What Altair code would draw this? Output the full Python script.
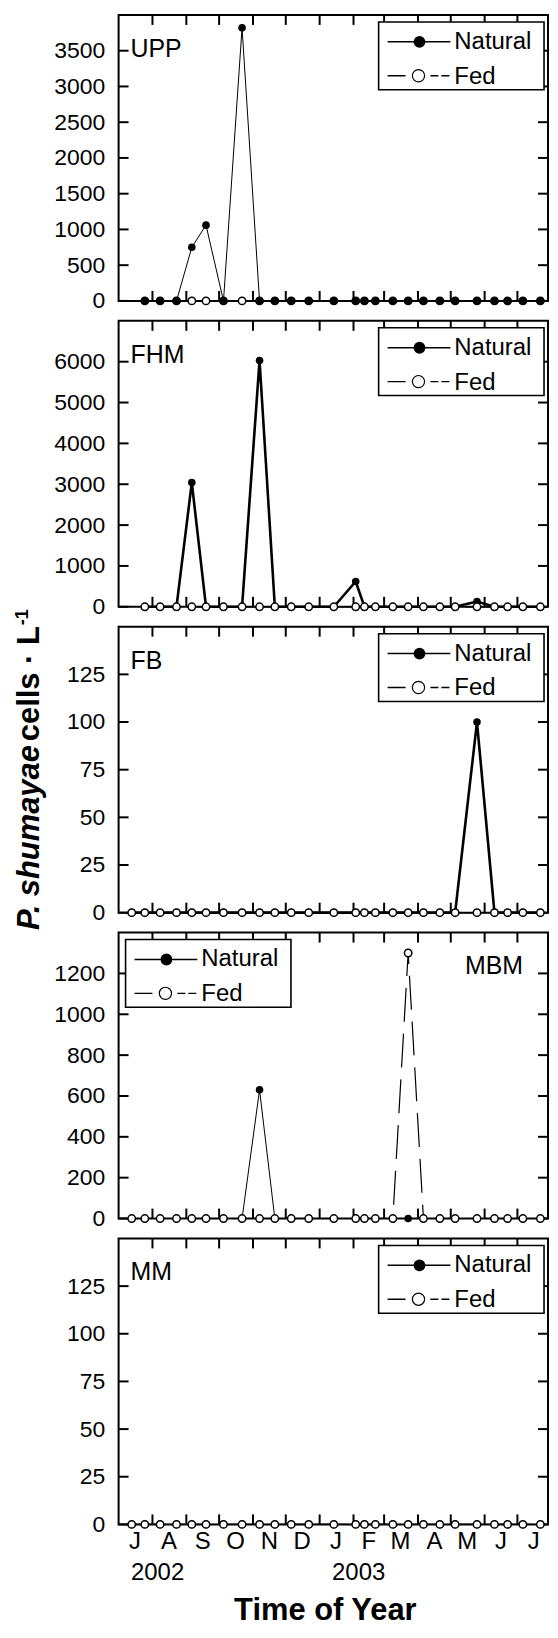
import altair as alt
import pandas as pd

FONT = "Liberation Sans"
W, H = 431, 287

# ---------------- data ----------------
sites = ["UPP", "FHM", "FB", "MBM", "MM"]
series = ["Natural", "Fed"]

sample_dates = ["2002-07-13", "2002-07-25", "2002-08-08", "2002-08-23", "2002-09-06",
                "2002-09-19", "2002-10-05", "2002-10-22", "2002-11-07", "2002-11-21",
                "2002-12-06", "2002-12-22", "2003-01-14", "2003-02-03", "2003-02-11",
                "2003-02-21", "2003-03-09", "2003-03-23", "2003-04-06", "2003-04-21",
                "2003-05-05", "2003-05-25", "2003-06-10", "2003-06-22", "2003-07-06",
                "2003-07-22"]
late_dates = sample_dates[1:]   # UPP and FHM sampling began 25 Jul

upp_natural = [0, 0, 0, 750, 1060, 0, 3820, 0, 0, 0, 0, 0, 0, 0, 0, 0, 0, 0, 0, 0, 0, 0, 0, 0, 0]
upp_fed     = [0, 0, 0, 0, 0, 0, 0, 0, 0, 0, 0, 0, 0, 0, 0, 0, 0, 0, 0, 0, 0, 0, 0, 0, 0]
fhm_natural = [0, 0, 0, 3040, 0, 0, 0, 6030, 0, 0, 0, 0, 620, 0, 0, 0, 0, 0, 0, 0, 130, 0, 0, 0, 0]
fhm_fed     = [0, 0, 0, 0, 0, 0, 0, 0, 0, 0, 0, 0, 0, 0, 0, 0, 0, 0, 0, 0, 0, 0, 0, 0, 0]
fb_natural  = [0, 0, 0, 0, 0, 0, 0, 0, 0, 0, 0, 0, 0, 0, 0, 0, 0, 0, 0, 0, 0, 100, 0, 0, 0, 0]
fb_fed      = [0, 0, 0, 0, 0, 0, 0, 0, 0, 0, 0, 0, 0, 0, 0, 0, 0, 0, 0, 0, 0, 0, 0, 0, 0, 0]
mbm_natural = [0, 0, 0, 0, 0, 0, 0, 0, 630, 0, 0, 0, 0, 0, 0, 0, 0, 0, 0, 0, 0, 0, 0, 0, 0, 0]
mbm_fed     = [0, 0, 0, 0, 0, 0, 0, 0, 0, 0, 0, 0, 0, 0, 0, 0, 0, 1300, 0, 0, 0, 0, 0, 0, 0, 0]
mm_natural  = [0, 0, 0, 0, 0, 0, 0, 0, 0, 0, 0, 0, 0, 0, 0, 0, 0, 0, 0, 0, 0, 0, 0, 0, 0, 0]
mm_fed      = [0, 0, 0, 0, 0, 0, 0, 0, 0, 0, 0, 0, 0, 0, 0, 0, 0, 0, 0, 0, 0, 0, 0, 0, 0, 0]

upp_ticks = [0, 500, 1000, 1500, 2000, 2500, 3000, 3500]
fhm_ticks = [0, 1000, 2000, 3000, 4000, 5000, 6000]
fb_ticks = [0, 25, 50, 75, 100, 125]
mbm_ticks = [0, 200, 400, 600, 800, 1000, 1200]
mm_ticks = [0, 25, 50, 75, 100, 125]
y_max = [4000, 7000, 150, 1400, 150]

month_starts = ["2002-08-01", "2002-09-01", "2002-10-01", "2002-11-01", "2002-12-01",
                "2003-01-01", "2003-02-01", "2003-03-01", "2003-04-01", "2003-05-01",
                "2003-06-01", "2003-07-01"]
month_mids = ["2002-07-16", "2002-08-16", "2002-09-16", "2002-10-16", "2002-11-16",
              "2002-12-16", "2003-01-16", "2003-02-15", "2003-03-16", "2003-04-16",
              "2003-05-16", "2003-06-16", "2003-07-16"]
month_letters = ["J", "A", "S", "O", "N", "D", "J", "F", "M", "A", "M", "J", "J"]
year_labels = ["2002", "2003"]
year_dates = ["2002-07-16", "2003-01-16"]

# ---------------- helpers ----------------
xscale = alt.Scale(type="utc", domain=[alt.DateTime(year=2002, month=7, date=1, utc=True),
                                       alt.DateTime(year=2003, month=7, date=29, utc=True)])
one = pd.DataFrame({"k": [0]})


def panel(i, dates, natural, fed, ticks, nat_width, natural_on_top, legend_left,
          label_right, ytitle=False, xlabels=False):
    df = pd.DataFrame({"date": dates, "Natural": natural, "Fed": fed})
    ys = alt.Scale(domain=[0, y_max[i]], nice=False, zero=False)
    yaxis = alt.Axis(values=ticks, tickSize=0, domain=False, grid=False, labelFont=FONT,
                     labelFontSize=23, labelPadding=14, labelColor="black", title=None,
                     format="d")
    X = alt.X("date:T", scale=xscale, axis=None)
    base = alt.Chart(df)
    nat_line = base.mark_line(color="black", strokeWidth=nat_width).encode(
        x=X, y=alt.Y("Natural:Q", scale=ys, axis=yaxis))
    nat_pts = base.mark_point(shape="circle", filled=True, color="black", size=58,
                              opacity=1).encode(x=X, y=alt.Y("Natural:Q", scale=ys, axis=yaxis))
    fed_line = base.mark_line(color="black", strokeWidth=1.2, strokeDash=[34, 12]).encode(
        x=X, y=alt.Y("Fed:Q", scale=ys, axis=yaxis))
    fed_pts = base.mark_point(shape="circle", filled=True, fill="white", stroke="black",
                              strokeWidth=1.5, size=55, opacity=1).encode(
        x=X, y=alt.Y("Fed:Q", scale=ys, axis=yaxis))

    tick_df = pd.DataFrame({"v": ticks})
    yt_l = alt.Chart(tick_df).mark_rule(color="black", strokeWidth=2).encode(
        y=alt.Y("v:Q", scale=ys, axis=yaxis), x=alt.value(0), x2=alt.value(10))
    yt_r = alt.Chart(tick_df).mark_rule(color="black", strokeWidth=2).encode(
        y=alt.Y("v:Q", scale=ys, axis=yaxis), x=alt.value(W - 10), x2=alt.value(W))
    ms_df = pd.DataFrame({"m": month_starts})
    xt_t = alt.Chart(ms_df).mark_rule(color="black", strokeWidth=2).encode(
        x=alt.X("m:T", scale=xscale, axis=None), y=alt.value(0), y2=alt.value(10))
    xt_b = alt.Chart(ms_df).mark_rule(color="black", strokeWidth=2).encode(
        x=alt.X("m:T", scale=xscale, axis=None), y=alt.value(H - 10), y2=alt.value(H))

    # legend box
    lx = 7 if legend_left else W - 170
    leg_df = pd.DataFrame({"s": series})
    box = alt.Chart(one).mark_rect(fill="white", stroke="black", strokeWidth=1.6).encode(
        x=alt.value(lx), x2=alt.value(lx + 166), y=alt.value(7), y2=alt.value(75))
    l_nat_line = alt.Chart(one).mark_rule(color="black", strokeWidth=1.5).encode(
        x=alt.value(lx + 9), x2=alt.value(lx + 72), y=alt.value(27))
    l_nat_pt = alt.Chart(one).mark_point(shape="circle", filled=True, color="black",
                                         size=140, opacity=1).encode(
        x=alt.value(lx + 41), y=alt.value(27))
    l_fed_line = alt.Chart(one).mark_rule(color="black", strokeWidth=1.3,
                                          strokeDash=[18, 25, 8, 3, 8, 100]).encode(
        x=alt.value(lx + 9), x2=alt.value(lx + 72), y=alt.value(61))
    l_fed_pt = alt.Chart(one).mark_point(shape="circle", filled=True, fill="white",
                                         stroke="black", strokeWidth=1.2, size=150,
                                         opacity=1).encode(
        x=alt.value(lx + 40), y=alt.value(61))
    l_txt_n = alt.Chart(leg_df).transform_filter(alt.datum.s == "Natural").mark_text(
        align="left", baseline="middle", font=FONT, fontSize=24, color="black").encode(
        text="s:N", x=alt.value(lx + 76), y=alt.value(27))
    l_txt_f = alt.Chart(leg_df).transform_filter(alt.datum.s == "Fed").mark_text(
        align="left", baseline="middle", font=FONT, fontSize=24, color="black").encode(
        text="s:N", x=alt.value(lx + 76), y=alt.value(62))

    site_df = pd.DataFrame({"name": [sites[i]]})
    lab = alt.Chart(site_df).mark_text(
        align="right" if label_right else "left", baseline="alphabetic", font=FONT,
        fontSize=25, color="black").encode(
        text="name:N", x=alt.value(W - 25 if label_right else 12), y=alt.value(42))

    data_layers = [fed_line, fed_pts, nat_line, nat_pts] if natural_on_top else \
        [nat_line, nat_pts, fed_line, fed_pts]
    layers = [yt_l, yt_r, xt_t, xt_b] + data_layers + [box, l_nat_line, l_nat_pt,
                                                      l_fed_line, l_fed_pt, l_txt_n,
                                                      l_txt_f, lab]

    if ytitle:
        fs = 31
        w1 = 6.114 * fs
        w2 = 3.75 * fs
        w3 = 0.889 * 18
        start = H / 2 + (w1 + w2 + w3) / 2
        t1 = alt.Chart(pd.DataFrame({"t": ["P. shumayae"]})).mark_text(
            align="left", baseline="alphabetic", angle=270, font=FONT, fontSize=fs,
            fontWeight="bold", fontStyle="italic", color="black").encode(
            text="t:N", x=alt.value(-80), y=alt.value(start))
        t2 = alt.Chart(pd.DataFrame({"t": [" cells \u00b7 L"]})).mark_text(
            align="left", baseline="alphabetic", angle=270, font=FONT, fontSize=fs,
            fontWeight="bold", color="black").encode(
            text="t:N", x=alt.value(-80), y=alt.value(start - w1))
        t3 = alt.Chart(pd.DataFrame({"t": ["-1"]})).mark_text(
            align="left", baseline="alphabetic", angle=270, font=FONT, fontSize=18,
            fontWeight="bold", color="black").encode(
            text="t:N", x=alt.value(-91), y=alt.value(start - w1 - w2))
        layers += [t1, t2, t3]

    if xlabels:
        mdf = pd.DataFrame({"m": month_mids, "t": month_letters})
        months = alt.Chart(mdf).mark_text(align="center", baseline="alphabetic", font=FONT,
                                          fontSize=24, color="black").encode(
            x=alt.X("m:T", scale=xscale, axis=None), text="t:N", y=alt.value(312))
        ydf = pd.DataFrame({"m": year_dates, "t": year_labels})
        years = alt.Chart(ydf).mark_text(align="left", baseline="alphabetic", font=FONT,
                                         fontSize=24, dx=-4, color="black").encode(
            x=alt.X("m:T", scale=xscale, axis=None), text="t:N", y=alt.value(343))
        ttl = alt.Chart(pd.DataFrame({"t": ["Time of Year"]})).mark_text(
            align="center", baseline="alphabetic", font=FONT, fontSize=31,
            fontWeight="bold", color="black").encode(
            text="t:N", x=alt.value(W / 2 - 8), y=alt.value(383))
        layers += [months, years, ttl]

    return alt.layer(*layers).properties(width=W, height=H)


p1 = panel(0, late_dates, upp_natural, upp_fed, upp_ticks, 1.0, True, False, False)
p2 = panel(1, late_dates, fhm_natural, fhm_fed, fhm_ticks, 2.6, False, False, False)
p3 = panel(2, sample_dates, fb_natural, fb_fed, fb_ticks, 2.6, False, False, False,
           ytitle=True)
p4 = panel(3, sample_dates, mbm_natural, mbm_fed, mbm_ticks, 1.0, False, True, True)
p5 = panel(4, sample_dates, mm_natural, mm_fed, mm_ticks, 1.0, False, False, False,
           xlabels=True)

chart = alt.vconcat(p1, p2, p3, p4, p5, spacing=20, bounds="flush").configure_view(
    stroke="black", strokeWidth=2).properties(
    padding={"left": 5, "top": 2, "right": 0, "bottom": 0})

chart.save("out.html", embed_options={"renderer": "svg", "actions": False})
